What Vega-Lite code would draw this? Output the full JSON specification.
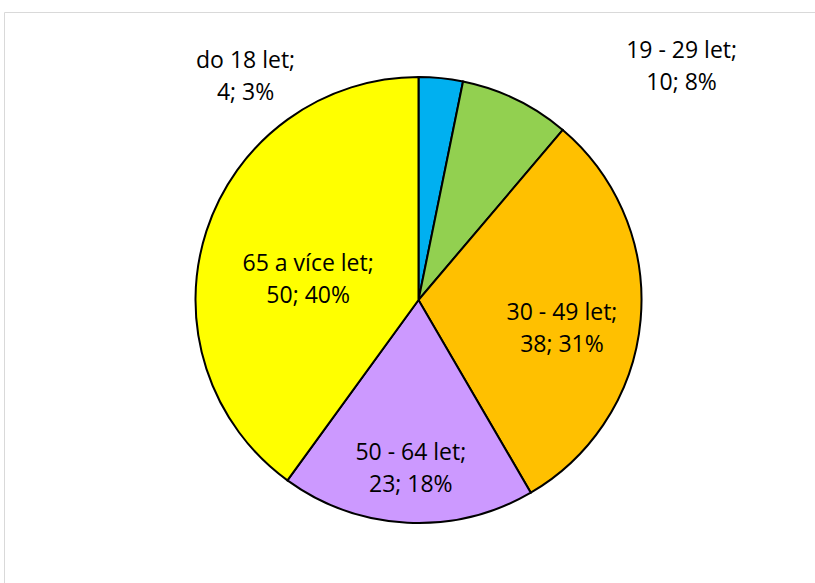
{
  "$schema": "https://vega.github.io/schema/vega-lite/v6.json",
  "width": 829,
  "height": 576,
  "autosize": {"type": "none"},
  "padding": {"left": 4, "top": 12, "right": -18, "bottom": -5},
  "background": "white",
  "view": {"stroke": "#d9d9d9", "strokeWidth": 1},
  "data": {
    "values": [
      {"vek": "do 18 let", "pocet": 4, "podil": "3%", "poradi": 1},
      {"vek": "19 - 29 let", "pocet": 10, "podil": "8%", "poradi": 2},
      {"vek": "30 - 49 let", "pocet": 38, "podil": "31%", "poradi": 3},
      {"vek": "50 - 64 let", "pocet": 23, "podil": "18%", "poradi": 4},
      {"vek": "65 a více let", "pocet": 50, "podil": "40%", "poradi": 5}
    ]
  },
  "transform": [
    {"calculate": "datum.vek + ';\\n' + datum.pocet + '; ' + datum.podil", "as": "popisek"}
  ],
  "encoding": {
    "theta": {"field": "pocet", "type": "quantitative", "stack": true},
    "order": {"field": "poradi", "type": "quantitative"}
  },
  "layer": [
    {
      "mark": {"type": "arc", "outerRadius": 223, "stroke": "black", "strokeWidth": 2},
      "encoding": {
        "color": {
          "field": "vek",
          "type": "nominal",
          "scale": {
            "domain": ["do 18 let", "19 - 29 let", "30 - 49 let", "50 - 64 let", "65 a více let"],
            "range": ["#00B0F0", "#92D050", "#FFC000", "#CC99FF", "#FFFF00"]
          },
          "legend": null
        }
      }
    },
    {
      "mark": {
        "type": "text",
        "font": "Open Sans",
        "fontSize": 23,
        "lineHeight": 32,
        "lineBreak": "\n",
        "align": "center",
        "baseline": "middle",
        "color": "black",
        "radius": {"expr": "datum.vek === '30 - 49 let' ? 144 : datum.vek === '50 - 64 let' ? 153 : datum.vek === '65 a více let' ? 116 : datum.vek === 'do 18 let' ? 240 : 277"},
        "dx": {"expr": "datum.vek === 'do 18 let' ? -197 : datum.vek === '19 - 29 let' ? 142 : 0"}
      },
      "encoding": {
        "text": {"field": "popisek", "type": "nominal"}
      }
    }
  ]
}
